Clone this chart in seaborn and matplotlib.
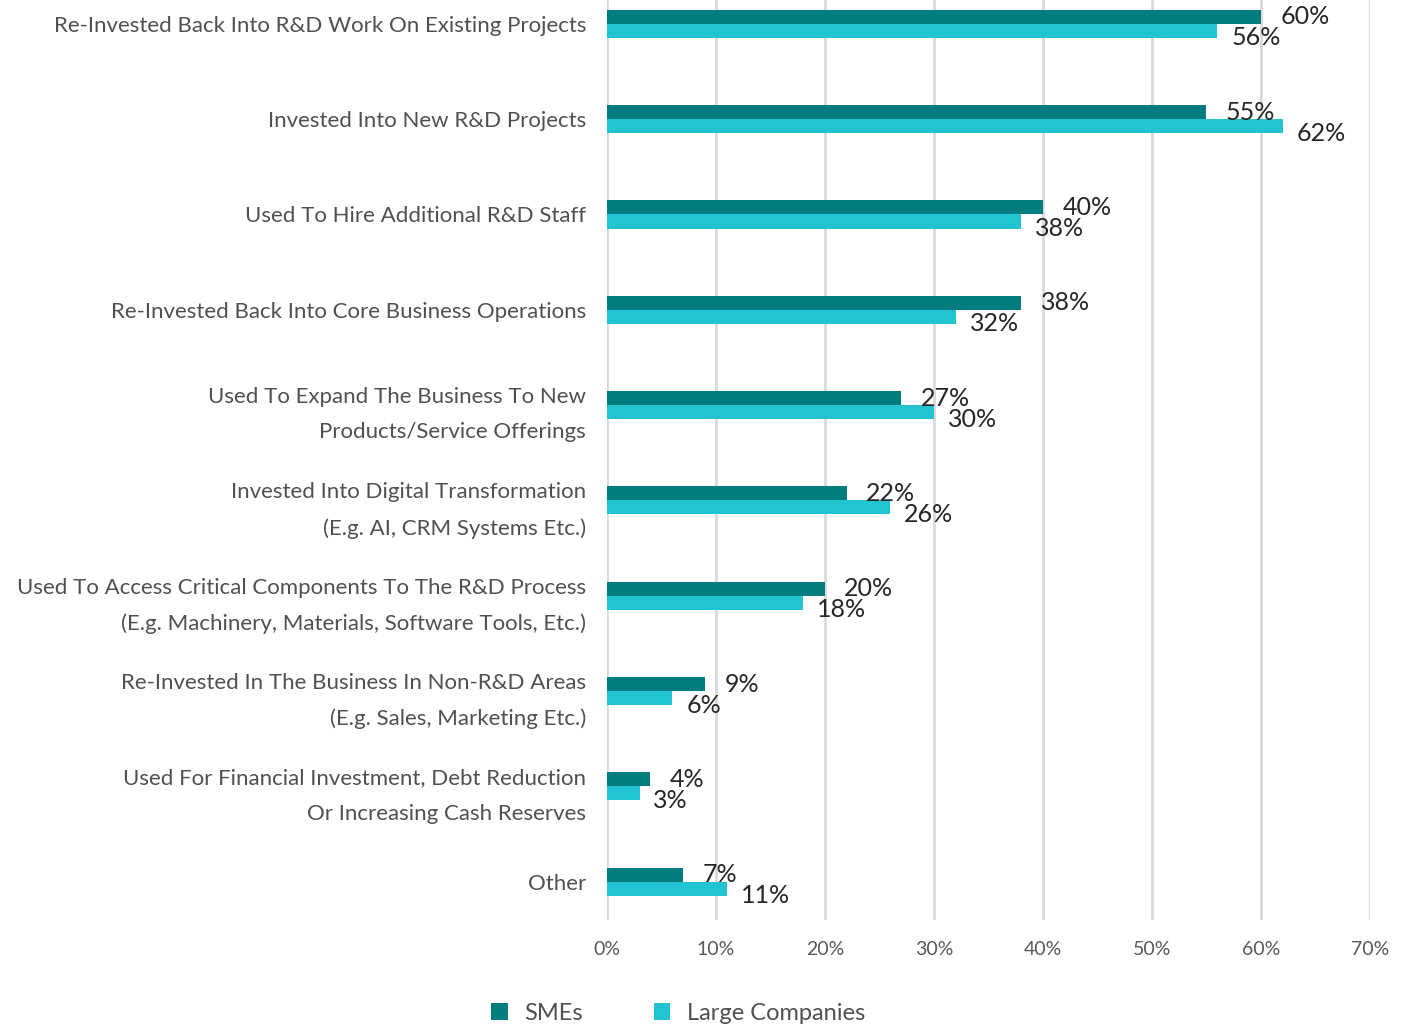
import pandas as pd
import matplotlib
matplotlib.use("Agg")
import matplotlib.pyplot as plt
import seaborn as sns

categories = [
    "Re-Invested Back Into R&D Work On Existing Projects",
    "Invested Into New R&D Projects",
    "Used To Hire Additional R&D Staff",
    "Re-Invested Back Into Core Business Operations",
    "Used To Expand The Business To New\nProducts/Service Offerings",
    "Invested Into Digital Transformation\n(E.g. AI, CRM Systems Etc.)",
    "Used To Access Critical Components To The R&D Process\n(E.g. Machinery, Materials, Software Tools, Etc.)",
    "Re-Invested In The Business In Non-R&D Areas\n(E.g. Sales, Marketing Etc.)",
    "Used For Financial Investment, Debt Reduction\nOr Increasing Cash Reserves",
    "Other",
]
smes = [60, 55, 40, 38, 27, 22, 20, 9, 4, 7]
large = [56, 62, 38, 32, 30, 26, 18, 6, 3, 11]
series = ["SMEs", "Large Companies"]
colors = ["#037c7f", "#23c4d2"]
x_ticks = [0, 10, 20, 30, 40, 50, 60, 70]

df = pd.DataFrame({
    "Category": categories * 2,
    "Value": smes + large,
    "Series": [series[0]] * len(categories) + [series[1]] * len(categories),
})

sns.set_style("white")
plt.rcParams["font.family"] = ["Lato", "DejaVu Sans"]

fig = plt.figure(figsize=(14.08, 10.29), dpi=100)
ax = fig.add_axes([0.431, 0.106, 0.542, 0.894])

sns.barplot(data=df, y="Category", x="Value", hue="Series", orient="h",
            palette=colors, width=0.294, ax=ax, legend=True, saturation=1,
            linewidth=0)

ax.set_xlim(0, 70)
ax.set_ylim(9.40, -0.25)
ax.set_xticks(x_ticks)
ax.set_xticklabels([f"{t}%" for t in x_ticks], fontsize=14, color="#595959")
ax.tick_params(axis="x", length=0, pad=15)
ax.tick_params(axis="y", length=0, pad=15)
for lab in ax.get_yticklabels():
    lab.set_fontsize(16)
    lab.set_color("#505050")
    lab.set_linespacing(1.95)
ax.set_xlabel("")
ax.set_ylabel("")
ax.grid(axis="x", color="#d9d9d9", linewidth=2)
ax.set_axisbelow(True)
for s in ax.spines.values():
    s.set_visible(False)

# value labels
for i, (a, b) in enumerate(zip(smes, large)):
    ax.annotate(f"{a}%", (a, i - 0.0735), xytext=(14, 0), textcoords="offset points",
                ha="left", va="center", fontsize=18, color="#262626")
    ax.annotate(f"{b}%", (b, i + 0.0735), xytext=(10, -5), textcoords="offset points",
                ha="left", va="center", fontsize=18, color="#262626")

handles, labels = ax.get_legend_handles_labels()
ax.legend(handles, labels, loc="center",
          bbox_to_anchor=(678 / 1408, 1 - 1013 / 1029),
          bbox_transform=fig.transFigure, ncol=2, frameon=False, fontsize=17,
          handlelength=0.7, handleheight=0.7, columnspacing=3.0, handletextpad=0.7,
          labelcolor="#505050")

fig.savefig("out.png", dpi=100)
